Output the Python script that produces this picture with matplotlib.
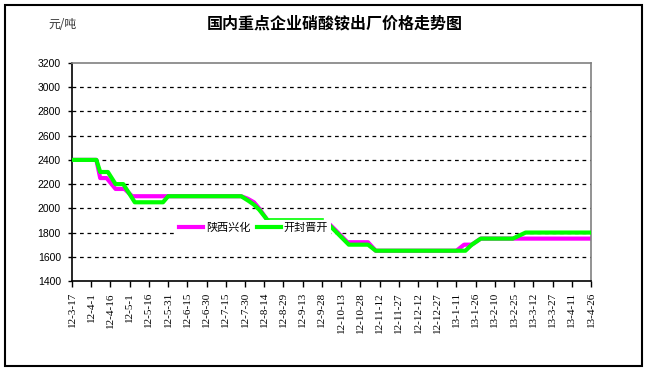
import matplotlib
matplotlib.use("Agg")
import matplotlib.pyplot as plt
import pandas as pd
from matplotlib.patches import Rectangle

plt.rcParams['font.family'] = ['Noto Sans CJK SC', 'DejaVu Sans']

# 陕西兴化 (magenta)
shaanxi_dates = ['2012-03-17', '2012-04-05', '2012-04-08', '2012-04-13', '2012-04-20',
                 '2012-04-27', '2012-05-03', '2012-07-27', '2012-08-01', '2012-08-06',
                 '2012-08-10', '2012-08-16']
shaanxi_vals = [2400, 2400, 2250, 2250, 2160, 2160, 2100, 2100, 2080, 2050, 2000, 1910]
shaanxi_dates2 = ['2012-10-03', '2012-10-18', '2012-11-03', '2012-11-09', '2013-01-11',
                  '2013-01-17', '2013-01-23', '2013-01-30', '2013-04-26']
shaanxi_vals2 = [1880, 1720, 1720, 1650, 1650, 1700, 1700, 1750, 1750]

# 开封晋开 (green)
kaifeng_dates = ['2012-03-17', '2012-04-05', '2012-04-08', '2012-04-14', '2012-04-20',
                 '2012-04-26', '2012-05-05', '2012-05-27', '2012-05-31', '2012-07-27',
                 '2012-08-02', '2012-08-06', '2012-08-10', '2012-08-16']
kaifeng_vals = [2400, 2400, 2300, 2300, 2200, 2200, 2050, 2050, 2100, 2100,
                2060, 2030, 1990, 1910]
kaifeng_thin_dates = ['2012-08-16', '2012-09-29']
kaifeng_thin_vals = [1910, 1910]
kaifeng_dates2 = ['2012-10-03', '2012-10-19', '2012-11-03', '2012-11-09', '2013-01-18',
                  '2013-01-23', '2013-01-30', '2013-02-24', '2013-03-06', '2013-04-26']
kaifeng_vals2 = [1870, 1700, 1700, 1650, 1650, 1700, 1750, 1750, 1800, 1800]

start, end = '2012-03-17', '2013-04-26'
yticks = list(range(1400, 3201, 200))

d = pd.to_datetime
tick_dates = pd.date_range(start, end, freq='15D')
tick_labels = ['%d-%d-%d' % (t.year % 100, t.month, t.day) for t in tick_dates]

fig = plt.figure(figsize=(6.5, 3.72), dpi=100)
ax = fig.add_axes([72/650, 1-281/372, 519/650, 218/372])

magenta = '#FF00FF'
green = '#00FF00'

for y in yticks[1:-1]:
    ax.axhline(y, color='black', lw=0.9, ls=(0, (3, 3)), zorder=1)

ax.plot(d(shaanxi_dates), shaanxi_vals, color=magenta, lw=3, label='陕西兴化', zorder=2)
ax.plot(d(shaanxi_dates2), shaanxi_vals2, color=magenta, lw=3, zorder=2)
ax.plot(d(kaifeng_dates), kaifeng_vals, color=green, lw=3, label='开封晋开', zorder=3)
ax.plot(d(kaifeng_thin_dates), kaifeng_thin_vals, color=green, lw=1.2, zorder=3)
ax.plot(d(kaifeng_dates2), kaifeng_vals2, color=green, lw=3, zorder=3)

ax.set_xlim(d(start), d(end))
ax.set_ylim(1400, 3200)
ax.set_yticks(yticks)
ax.set_yticklabels([str(v) for v in yticks], fontfamily='Liberation Sans', fontsize=7.5)
ax.set_xticks(tick_dates)
ax.set_xticklabels(tick_labels, rotation=90, fontfamily='Liberation Serif', fontsize=8,
                   va='top')
ax.tick_params(axis='x', length=4, width=1, pad=4, direction='out')
ax.tick_params(axis='y', length=3, width=1, pad=5, direction='out')

for s in ['left', 'bottom']:
    ax.spines[s].set_color('black')
    ax.spines[s].set_linewidth(1.2)
for s in ['top', 'right']:
    ax.spines[s].set_color('#808080')
    ax.spines[s].set_linewidth(1.2)

leg = ax.legend(loc='center', bbox_to_anchor=(0.35, 0.243), ncol=2, fontsize=8,
                handlelength=2.15, handletextpad=0.25, columnspacing=0.55,
                borderpad=0.3, frameon=True, fancybox=False, framealpha=1)
leg.get_frame().set_edgecolor('none')
for line in leg.get_lines():
    line.set_linewidth(3)

fig.text(335/650, 1-24/372, '国内重点企业硝酸铵出厂价格走势图', ha='center', va='center',
         fontsize=11.5, fontweight='bold')
fig.text(62/650, 1-25/372, '元/吨', ha='center', va='center', fontsize=8.5, color='#333333')

fig.patches.append(Rectangle((5/650, 1-366/372), 637/650, 361/372, transform=fig.transFigure,
                             fill=False, edgecolor='black', lw=1.5))

fig.savefig('out.png', dpi=100)
